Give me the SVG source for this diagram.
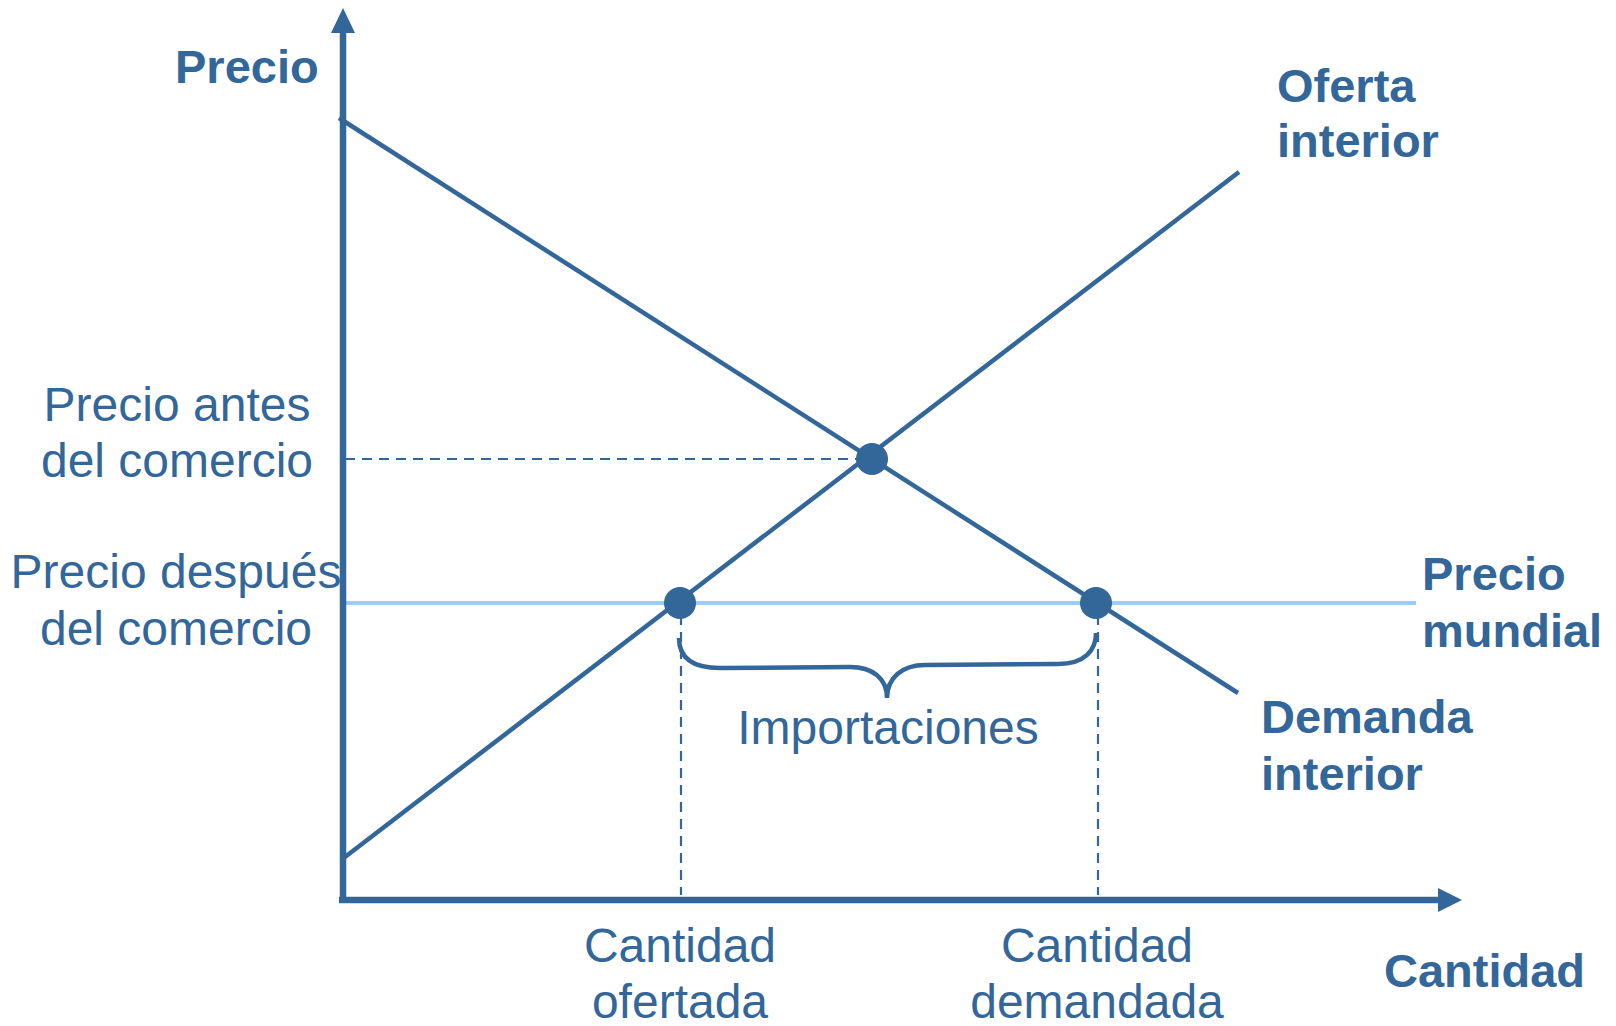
<svg xmlns="http://www.w3.org/2000/svg" width="1616" height="1026" viewBox="0 0 1616 1026">
<style>
.lbl{font-family:"Liberation Sans",Arial,sans-serif;fill:#336699;font-size:48px}
.b{font-weight:bold;font-size:47px}
.m{text-anchor:middle}
.ln{stroke:#336699;stroke-width:4.5;fill:none}
.ds{stroke:#336699;stroke-width:2.2;stroke-dasharray:10 7;fill:none}
.ax{stroke:#336699;stroke-width:6.5}
.ah{fill:#336699}
.dot{fill:#336699}
</style>
<rect width="1616" height="1026" fill="#ffffff"/>
<g id="connectors">
<line class="ds" x1="345" y1="459" x2="860" y2="459"/>
<line class="ds" x1="681" y1="615" x2="681" y2="895"/>
<line class="ds" x1="1098" y1="615" x2="1098" y2="895"/>
<line x1="344" y1="603" x2="1416" y2="603" stroke="#99CCFF" stroke-width="4"/>
<line class="ln" x1="339" y1="118" x2="1238" y2="693"/>
<line class="ln" x1="345" y1="857" x2="1239" y2="172"/>
<path class="ln" d="M679,638 C679,660 695,668 720,668 L850,667 C872,667 887,678 887,698 C887,678 902,665 925,665 L1058,664 C1085,664 1096,650 1096,633" stroke-width="5"/>
<line class="ax" x1="343" y1="903" x2="343" y2="32"/>
<path class="ah" d="M331,33 L343,8 L355,33 Z"/>
<line class="ax" x1="339" y1="900" x2="1440" y2="900"/>
<path class="ah" d="M1438,888 L1462,900 L1438,912 Z"/>
</g>
<g id="eq"><circle class="dot" cx="872" cy="459" r="16"/></g>
<g id="supplied"><circle class="dot" cx="680" cy="603" r="16"/></g>
<g id="demanded"><circle class="dot" cx="1096" cy="603" r="16"/></g>
<g id="axis-labels">
<text class="lbl b" x="175" y="83">Precio</text>
<text class="lbl b" x="1384" y="987">Cantidad</text>
</g>
<g id="supply-label"><text class="lbl b" x="1277" y="102">Oferta</text><text class="lbl b" x="1277" y="157">interior</text></g>
<g id="world-label"><text class="lbl b" x="1422" y="590">Precio</text><text class="lbl b" x="1422" y="647">mundial</text></g>
<g id="demand-label"><text class="lbl b" x="1261" y="733">Demanda</text><text class="lbl b" x="1261" y="790">interior</text></g>
<g id="price-before"><text class="lbl m" x="177" y="421">Precio antes</text><text class="lbl m" x="177" y="477">del comercio</text></g>
<g id="price-after"><text class="lbl m" x="176" y="588">Precio después</text><text class="lbl m" x="176" y="645">del comercio</text></g>
<g id="imports"><text class="lbl m" x="888" y="744">Importaciones</text></g>
<g id="q-supplied"><text class="lbl m" x="680" y="962">Cantidad</text><text class="lbl m" x="680" y="1018">ofertada</text></g>
<g id="q-demanded"><text class="lbl m" x="1097" y="962">Cantidad</text><text class="lbl m" x="1097" y="1018">demandada</text></g>
</svg>
